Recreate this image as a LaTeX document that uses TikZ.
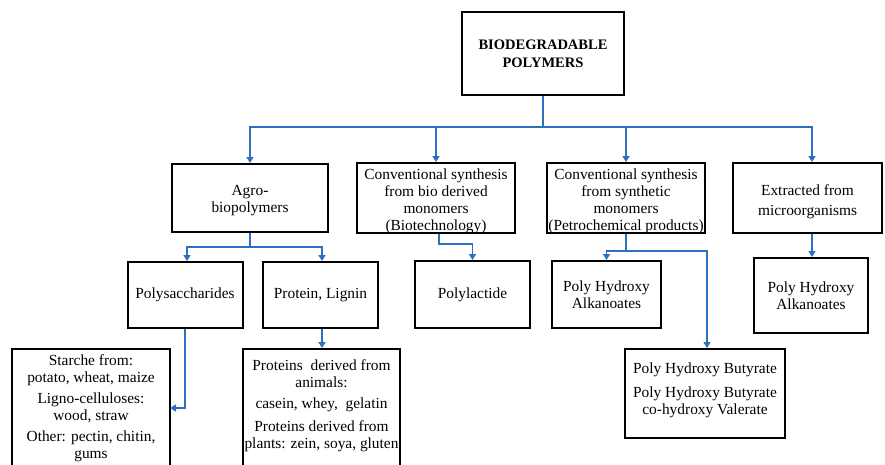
\documentclass[tikz,border=0pt]{standalone}
\usepackage{fontspec}
\setmainfont{Liberation Serif}
\usetikzlibrary{arrows.meta,calc}
\definecolor{connblue}{RGB}{46,112,192}
\tikzset{
 box/.style={draw=black, line width=2pt, inner sep=0pt, align=center, font=\fontsize{15.4}{17}\selectfont},
 txt/.style={inner sep=0pt, align=center, font=\fontsize{15.4}{17}\selectfont},
 conn/.style={draw=connblue, line width=1.6pt},
 arr/.style={conn, -{Triangle[width=7pt,length=6pt]}},
}
\begin{document}
\begin{tikzpicture}[x=1pt,y=-1pt]
\useasboundingbox (0,0) rectangle (885,464);
\clip (0,0) rectangle (885,464);
\fill[white] (0,0) rectangle (885,464);
% row 1
\node[box, minimum width=162pt, minimum height=83pt, font=\bfseries\fontsize{14.5}{18}\selectfont] (top) at (543,53.5) {BIODEGRADABLE\\POLYMERS};
% row 2
\node[box, minimum width=156pt, minimum height=68pt] (agro) at (250,198) {};
\node[txt] (agrot) at (250,201) {Agro-\\biopolymers};
\node[box, minimum width=158pt, minimum height=70pt] (bio) at (436,198) {};
\node[txt] (biot) at (436,201) {Conventional synthesis\\from bio derived\\monomers\\(Biotechnology)};
\node[box, minimum width=158pt, minimum height=70pt] (synth) at (626,198) {};
\node[txt] (syntht) at (626,201) {Conventional synthesis\\from synthetic\\monomers\\(Petrochemical products)};
\node[box, minimum width=149pt, minimum height=70pt] (extr) at (807.5,198) {};
\node[txt] (extrt) at (807.5,202) {Extracted from\\[3pt]microorganisms};
% row 3
\node[box, minimum width=115pt, minimum height=66pt] (poly) at (185,295) {Polysaccharides};
\node[box, minimum width=115pt, minimum height=66pt] (prot) at (320.5,295) {Protein, Lignin};
\node[box, minimum width=115pt, minimum height=67pt] (plac) at (472.5,294.5) {Polylactide};
\node[box, minimum width=109pt, minimum height=67pt] (pha1) at (606.5,294.5) {Poly Hydroxy\\Alkanoates};
\node[box, minimum width=114pt, minimum height=75pt] (pha2) at (811,295.5) {Poly Hydroxy\\Alkanoates};
% row 4
\node[box, minimum width=158pt, minimum height=140pt, anchor=north] (starch) at (91,348) {};
\node[txt, anchor=north] (starcht) at (91,354) {Starche from:\\potato, wheat, maize\\[4pt]Ligno-celluloses:\\wood, straw\\[4pt]Other: pectin, chitin,\\gums};
\node[box, minimum width=157pt, minimum height=140pt, anchor=north] (protd) at (321.5,348) {};
\node[txt, anchor=north] (protdt) at (321.5,359) {Proteins\ \ derived from\\animals:\\[4pt]casein, whey,\ \ gelatin\\[6pt]Proteins derived from\\plants: zein, soya, gluten};
\node[box, minimum width=160pt, minimum height=89pt] (phb) at (705,393.5) {};
\node[txt] (phbt) at (705,390) {Poly Hydroxy Butyrate\\[7pt]Poly Hydroxy Butyrate\\co-hydroxy Valerate};
% connectors
\coordinate (j1) at (543,127);
\draw[conn] (top.south) -- (j1);
\draw[arr] (j1) -| (agro.north);
\draw[arr] (j1) -| (bio.north);
\draw[arr] (j1) -| (synth.north);
\draw[arr] (j1) -| ([xshift=4.5pt]extr.north);
\coordinate (j2) at (250,247);
\draw[conn] (agro.south) -- (j2);
\draw[arr] (j2) -| ([xshift=2pt]poly.north);
\draw[arr] (j2) -| ([xshift=1.5pt]prot.north);
\draw[arr] ([xshift=1.5pt]prot.south) -- ([xshift=0.5pt]protd.north);
\coordinate (k1) at (170,408);
\draw[arr] (poly.south) |- (k1);
\draw[arr] ([xshift=3pt]bio.south) -- ++(0,10) -| (plac.north);
\coordinate (j3) at (626,251);
\draw[conn] (synth.south) -- (j3);
\draw[arr] (j3) -| (pha1.north);
\draw[arr] (j3) -| ([xshift=2pt]phb.north);
\draw[arr] ([xshift=1pt]extr.south -| pha2.north) -- ([xshift=1pt]pha2.north);
\end{tikzpicture}
\end{document}
